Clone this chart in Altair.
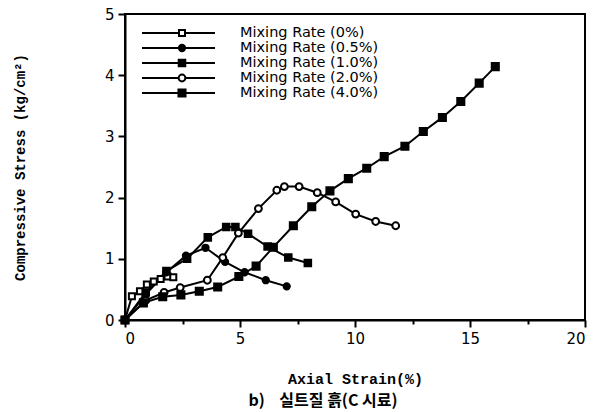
import altair as alt
import pandas as pd

series_labels = ["Mixing Rate (0%)", "Mixing Rate (0.5%)", "Mixing Rate (1.0%)",
                 "Mixing Rate (2.0%)", "Mixing Rate (4.0%)"]

strain_0 = [0, 0.3, 0.65, 0.95, 1.25, 1.55, 1.85, 2.1]
stress_0 = [0, 0.39, 0.47, 0.58, 0.63, 0.67, 0.71, 0.7]

strain_05 = [0, 0.9, 1.8, 2.65, 3.5, 4.35, 5.2, 6.12, 7.03]
stress_05 = [0, 0.42, 0.78, 1.05, 1.18, 0.95, 0.78, 0.65, 0.55]

strain_10 = [0, 0.9, 1.8, 2.7, 3.6, 4.4, 4.8, 5.35, 6.2, 7.1, 7.95]
stress_10 = [0, 0.45, 0.8, 1.0, 1.35, 1.52, 1.52, 1.41, 1.2, 1.02, 0.93]

strain_20 = [0, 0.9, 1.7, 2.4, 3.58, 4.25, 4.93, 5.8, 6.6, 6.93, 7.57, 8.36, 9.16, 10.03, 10.9, 11.77]
stress_20 = [0, 0.32, 0.45, 0.53, 0.65, 1.02, 1.42, 1.82, 2.12, 2.18, 2.18, 2.08, 1.93, 1.73, 1.61, 1.54]

strain_40 = [0, 0.8, 1.64, 2.43, 3.23, 4.03, 4.95, 5.7, 6.45, 7.32, 8.12, 8.91, 9.71, 10.51,
             11.27, 12.17, 12.97, 13.8, 14.6, 15.4, 16.1]
stress_40 = [0, 0.28, 0.38, 0.41, 0.47, 0.54, 0.71, 0.88, 1.19, 1.54, 1.85, 2.11, 2.31, 2.48,
             2.67, 2.84, 3.08, 3.31, 3.57, 3.87, 4.14]

x_ticks = [i * 2.5 for i in range(9)]
y_ticks = [i * 0.5 for i in range(11)]

rows = []
for lab, xs, ys in zip(series_labels,
                       [strain_0, strain_05, strain_10, strain_20, strain_40],
                       [stress_0, stress_05, stress_10, stress_20, stress_40]):
    for i, (a, b) in enumerate(zip(xs, ys)):
        rows.append({"series": lab, "strain": a, "stress": b, "idx": i})
df = pd.DataFrame(rows)
legend_df = pd.DataFrame({"series": series_labels})

shape_scale = alt.Scale(domain=series_labels,
                        range=["square", "circle", "square", "circle", "square"])
fill_scale = alt.Scale(domain=series_labels,
                       range=["white", "black", "black", "white", "black"])
size_scale = alt.Scale(domain=series_labels, range=[36, 50, 60, 45, 80])

x_enc = alt.X("strain:Q", scale=alt.Scale(domain=[0, 20], nice=False),
              axis=alt.Axis(values=x_ticks, title="Axial Strain(%)",
                            labelExpr="datum.value % 5 === 0 ? format(datum.value, 'd') : ''",
                            tickSize={"expr": "datum.value % 5 === 0 ? 7 : 4"},
                            titleFont="Liberation Mono", titleFontSize=15,
                            titleFontWeight="bold", titleY=58, titleBaseline="middle"))
y_enc = alt.Y("stress:Q", scale=alt.Scale(domain=[0, 5], nice=False),
              axis=alt.Axis(values=y_ticks, title="Compressive Stress (kg/cm²)",
                            labelExpr="datum.value % 1 === 0 ? format(datum.value, 'd') : ''",
                            tickSize={"expr": "datum.value % 1 === 0 ? 7 : 4"},
                            titleFont="Liberation Mono", titleFontSize=14,
                            titleFontWeight="bold", titleX=-105, titleY=153,
                            titleAngle=-90, titleBaseline="middle"))

lines = alt.Chart(df).mark_line(color="black", strokeWidth=2).encode(
    x=x_enc, y=y_enc, detail="series:N", order="idx:Q")

points = alt.Chart(df).mark_point(filled=False, stroke="black", strokeWidth=2, opacity=1).encode(
    x="strain:Q", y="stress:Q",
    shape=alt.Shape("series:N", scale=shape_scale, legend=None),
    fill=alt.Fill("series:N", scale=fill_scale, legend=None),
    size=alt.Size("series:N", scale=size_scale, legend=None),
)

data_layer = alt.layer(lines, points)

ly = alt.Y("series:N", scale=alt.Scale(type="point", domain=series_labels, range=[19, 79], padding=0),
           axis=None)
leg_rule = alt.Chart(legend_df).mark_rule(color="black", strokeWidth=2).encode(
    x=alt.value(17), x2=alt.value(90), y=ly)
leg_pt = alt.Chart(legend_df).mark_point(filled=False, stroke="black", strokeWidth=2, opacity=1).encode(
    x=alt.value(57), y=ly,
    shape=alt.Shape("series:N", scale=shape_scale, legend=None),
    fill=alt.Fill("series:N", scale=fill_scale, legend=None),
    size=alt.Size("series:N", scale=size_scale, legend=None),
)
leg_txt = alt.Chart(legend_df).mark_text(align="left", baseline="middle", font="DejaVu Sans",
                                         fontSize=14.5, color="black").encode(
    x=alt.value(115), y=ly, text="series:N")
legend_layer = alt.layer(leg_rule, leg_pt, leg_txt)

chart = alt.layer(data_layer, legend_layer).resolve_scale(
    y="independent"
).properties(
    width=460, height=306,
    padding={"left": 117, "top": 6, "right": 19, "bottom": 90},
    autosize=alt.AutoSizeParams(type="none"),
    title=alt.TitleParams("b)\u00a0\u00a0\u00a0\u00a0실트질\u00a0흙(C\u00a0시료)", orient="bottom",
                          anchor="middle", font="Noto Sans CJK KR", fontSize=16,
                          fontWeight="bold", dx=-32, offset=7),
).configure_view(stroke="black", strokeWidth=2).configure_axis(
    domainColor="black", domainWidth=2, tickColor="black", tickWidth=2,
    labelFont="DejaVu Sans", labelFontSize=15, labelColor="black",
    titleColor="black", grid=False, labelPadding=4
)

chart.save("out.html", embed_options={"renderer": "svg", "actions": False})
